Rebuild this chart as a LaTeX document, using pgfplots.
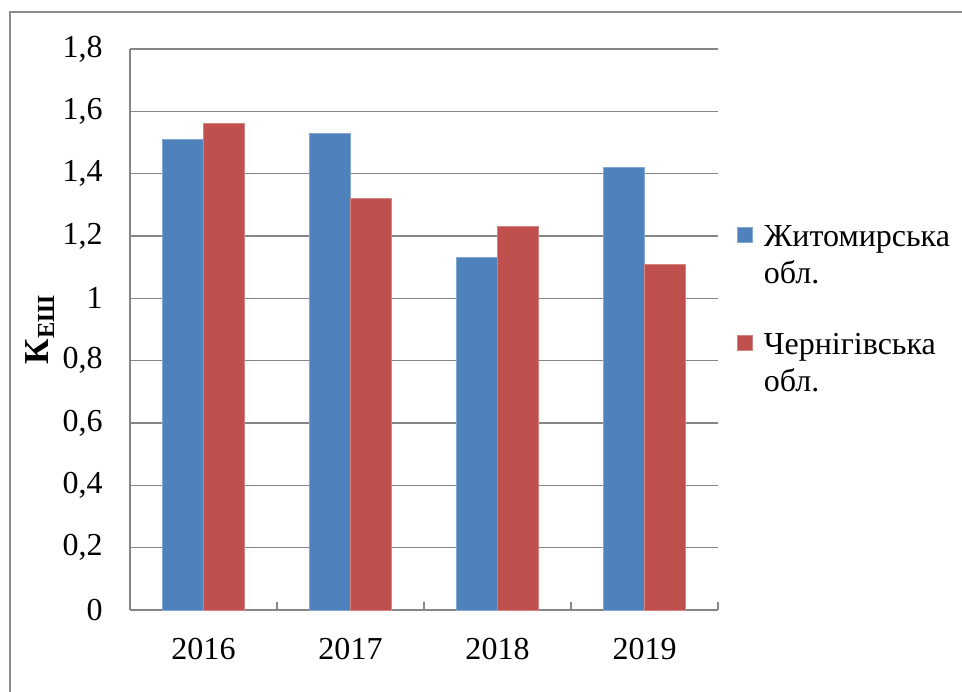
\documentclass[border=0pt]{standalone}
\usepackage{fontspec}
\setmainfont{Liberation Serif}
\usepackage{pgfplots}
\pgfplotsset{compat=1.18}
\definecolor{cblue}{HTML}{4F81BD}
\definecolor{cred}{HTML}{C0504D}
\definecolor{gline}{RGB}{134,134,134}
\definecolor{frame}{RGB}{140,140,140}
\begin{document}
\begin{tikzpicture}
\useasboundingbox (-65pt,-40.5pt) rectangle (416pt,305pt);
\begin{axis}[
  at={(0,0)}, anchor=south west,
  scale only axis,
  width=294pt, height=280.5pt,
  ybar=0pt, bar width=20.5pt,
  xmin=-0.5, xmax=3.5, ymin=0, ymax=1.8,
  xtick={0,1,2,3},
  xticklabels={2016,2017,2018,2019},
  minor xtick={-0.5,0.5,1.5,2.5,3.5},
  major x tick style={draw=none},
  minor x tick style={draw=gline, line width=0.8pt},
  minor tick length=4pt,
  xtick align=inside,
  ytick={0,0.2,...,1.8},
  ytick style={draw=none},
  ymajorgrids,
  grid style={gline, line width=0.8pt},
  axis x line*=bottom, axis y line*=left,
  axis line style={gline, line width=0.8pt, -},
  /pgf/number format/.cd, use comma, fixed, precision=1, assume math mode=true,
  /pgfplots/.cd,
  tick label style={font=\fontsize{16}{19}\selectfont},
  yticklabel style={anchor=east, inner sep=0pt, xshift=-13.5pt},
  xticklabel style={anchor=north, inner sep=0pt, yshift=-14pt},
  ylabel={\textbf{К\textsubscript{ЕШ}}},
  ylabel style={at={(axis description cs:-0.153,0.5)}, anchor=center, font=\fontsize{17.5}{20}\selectfont},
  legend style={at={(axis description cs:1.0323,0.692)}, anchor=north west,
    draw=none, fill=none, inner sep=0pt, outer sep=0pt,
    font=\fontsize{16}{18.5}\selectfont,
    row sep=19.5pt, column sep=3.5pt,
    cells={anchor=base west, align=left, inner sep=0pt}},
  legend image code/.code={\fill[#1] (0pt,20.75pt) rectangle (7.5pt,28.25pt);},
]
\addplot[fill=cblue, draw=cblue!70!white, line width=0.4pt] coordinates {(0,1.51) (1,1.53) (2,1.13) (3,1.42)};
\addplot[fill=cred, draw=cred!70!white, line width=0.4pt] coordinates {(0,1.56) (1,1.32) (2,1.23) (3,1.11)};
\legend{Житомирська\\обл., Чернігівська\\обл.}
\end{axis}
\draw[frame, line width=1.2pt] (-60pt,-41pt) -- (-60pt,299pt) -- (417pt,299pt);
\end{tikzpicture}
\end{document}
